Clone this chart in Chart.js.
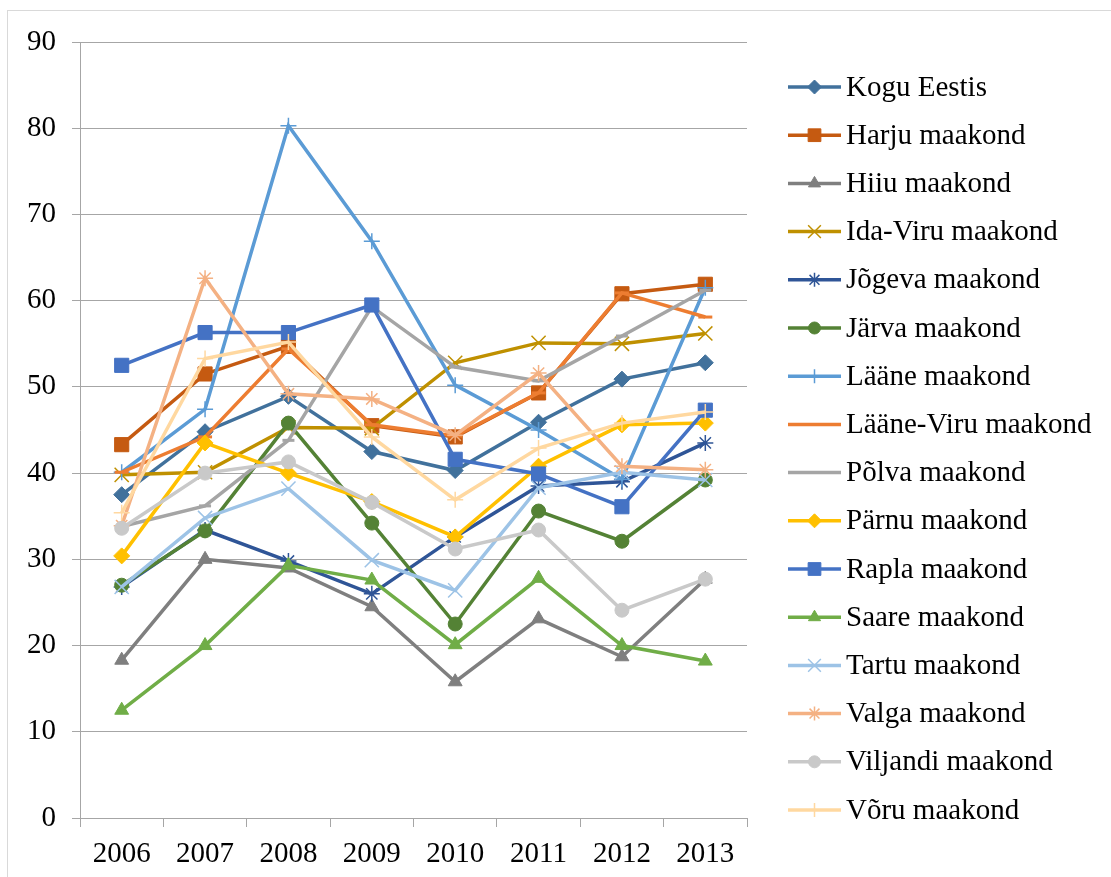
<!DOCTYPE html>
<html>
<head>
<meta charset="utf-8">
<script src="https://cdn.jsdelivr.net/npm/chart.js@4.4.1/dist/chart.umd.min.js"></script>
<style>
  body { margin: 0; background: #fff; }
  #wrap { position: absolute; left: 0; top: 0; width: 1111px; height: 877px; }
</style>
</head>
<body>
<div id="wrap"><canvas id="chart" width="1111" height="877"></canvas></div>
<script>
// Data
const years = ['2006', '2007', '2008', '2009', '2010', '2011', '2012', '2013'];
const yTicks = [0, 10, 20, 30, 40, 50, 60, 70, 80, 90];

const koguEestis  = [37.5, 44.8, 48.9, 42.5, 40.3, 45.9, 50.9, 52.8];
const harju       = [43.3, 51.5, 54.7, 45.5, 44.2, 49.3, 60.8, 61.9];
const hiiu        = [18.3, 30.0, 29.0, 24.5, 15.8, 23.1, 18.7, 27.7];
const idaViru     = [39.8, 40.1, 45.3, 45.2, 52.8, 55.1, 55.0, 56.2];
const jogeva      = [26.8, 33.4, 29.8, 26.0, 32.6, 38.5, 39.0, 43.5];
const jarva       = [27.0, 33.3, 45.8, 34.2, 22.5, 35.6, 32.1, 39.2];
const laane       = [40.1, 47.4, 80.3, 66.9, 50.2, 45.0, 39.3, 61.5];
const laaneViru   = [40.1, 44.2, 54.4, 45.6, 44.3, 49.3, 60.9, 58.1];
const polva       = [33.8, 36.2, 43.8, 59.3, 52.3, 50.7, 55.9, 61.2];
const parnu       = [30.4, 43.5, 40.0, 36.7, 32.6, 40.8, 45.6, 45.8];
const rapla       = [52.5, 56.3, 56.3, 59.5, 41.6, 39.9, 36.1, 47.3];
const saare       = [12.5, 20.0, 29.3, 27.6, 20.1, 27.8, 20.0, 18.2];
const tartu       = [26.8, 34.8, 38.2, 29.9, 26.4, 38.3, 40.1, 39.2];
const valga       = [33.9, 62.6, 49.2, 48.6, 44.4, 51.6, 40.8, 40.4];
const viljandi    = [33.6, 40.0, 41.3, 36.6, 31.2, 33.4, 24.1, 27.7];
const voru        = [35.4, 53.3, 55.2, 44.2, 36.9, 42.9, 45.8, 47.1];

// series: label, data, colour, marker style, marker radius
const series = [
    ['Kogu Eestis', koguEestis, '#41719c', 'rectRot', 8],
    ['Harju maakond', harju, '#c55a11', 'rect', 10],
    ['Hiiu maakond', hiiu, '#7f7f7f', 'triangle', 8],
    ['Ida-Viru maakond', idaViru, '#bf9000', 'crossRot', 10],
    ['Jõgeva maakond', jogeva, '#2f5597', 'star', 8],
    ['Järva maakond', jarva, '#548235', 'circle', 7],
    ['Lääne maakond', laane, '#5b9bd5', 'cross', 8],
    ['Lääne-Viru maakond', laaneViru, '#ed7d31', 'line', 7],
    ['Põlva maakond', polva, '#a5a5a5', 'line', 6],
    ['Pärnu maakond', parnu, '#ffc000', 'rectRot', 8],
    ['Rapla maakond', rapla, '#4472c4', 'rect', 10],
    ['Saare maakond', saare, '#70ad47', 'triangle', 8],
    ['Tartu maakond', tartu, '#9dc3e6', 'crossRot', 10],
    ['Valga maakond', valga, '#f4b183', 'star', 8],
    ['Viljandi maakond', viljandi, '#c9c9c9', 'circle', 7],
    ['Võru maakond', voru, '#ffd8a0', 'cross', 8]
];

const openMarkers = ['crossRot', 'star', 'cross', 'line'];

function markerWidth(style) {
    if (style === 'line') return 3;
    return openMarkers.includes(style) ? 1.5 : 1;
}

const datasets = series.map((s, i) => ({
    label: s[0],
    data: s[1],
    borderColor: s[2],
    backgroundColor: s[2],
    pointBackgroundColor: s[2],
    pointBorderColor: s[2],
    pointStyle: s[3],
    pointRadius: s[4],
    pointHoverRadius: s[4],
    pointBorderWidth: markerWidth(s[3]),
    borderWidth: 3.5,
    tension: 0,
    order: series.length - i   // later series drawn on top, as in the original
}));

// Legend drawn by hand: line sample with marker, then the label
const sideLegend = {
    id: 'sideLegend',
    afterDraw(chart) {
        const ctx = chart.ctx;
        ctx.save();
        ctx.font = '29px "Liberation Serif", "Times New Roman", serif';
        ctx.textBaseline = 'middle';
        series.forEach((s, i) => {
            const y = 87 + i * 48.2;
            ctx.strokeStyle = s[2];
            ctx.lineWidth = 3.5;
            ctx.beginPath();
            ctx.moveTo(788, y);
            ctx.lineTo(841, y);
            ctx.stroke();
            if (s[3] !== 'line') {
                ctx.fillStyle = s[2];
                ctx.strokeStyle = s[2];
                ctx.lineWidth = markerWidth(s[3]);
                Chart.helpers.drawPoint(ctx, {
                    pointStyle: s[3], radius: s[4] - 1, rotation: 0, borderWidth: markerWidth(s[3])
                }, 814.5, y);
            }
            ctx.fillStyle = '#000';
            ctx.fillText(s[0], 846, y + 1);
        });
        // thin outer frame of the chart
        ctx.strokeStyle = '#d9d9d9';
        ctx.lineWidth = 1;
        ctx.strokeRect(7.5, 10.5, 1110, 870);
        ctx.restore();
    }
};

new Chart(document.getElementById('chart'), {
    type: 'line',
    data: { labels: years, datasets: datasets },
    options: {
        responsive: false,
        animation: false,
        layout: { padding: { top: 42, right: 364, bottom: 0, left: 0 } },
        plugins: {
            legend: { display: false },
            tooltip: { enabled: false }
        },
        scales: {
            x: {
                offset: true,
                afterFit: (scale) => { scale.height = 59; },
                grid: {
                    offset: true,
                    drawOnChartArea: false,
                    drawTicks: true,
                    tickLength: 9,
                    color: '#a6a6a6'
                },
                border: { color: '#a6a6a6', width: 1 },
                ticks: {
                    color: '#000',
                    padding: 10,
                    font: { family: '"Liberation Serif", "Times New Roman", serif', size: 29 }
                }
            },
            y: {
                min: 0,
                max: 90,
                afterFit: (scale) => { scale.width = 80; },
                afterBuildTicks: (scale) => { scale.ticks = yTicks.map(v => ({ value: v })); },
                grid: { color: '#a6a6a6', tickLength: 8 },
                border: { color: '#a6a6a6', width: 1 },
                ticks: {
                    color: '#000',
                    padding: 16,
                    font: { family: '"Liberation Serif", "Times New Roman", serif', size: 29 }
                }
            }
        }
    },
    plugins: [sideLegend]
});
</script>
</body>
</html>
